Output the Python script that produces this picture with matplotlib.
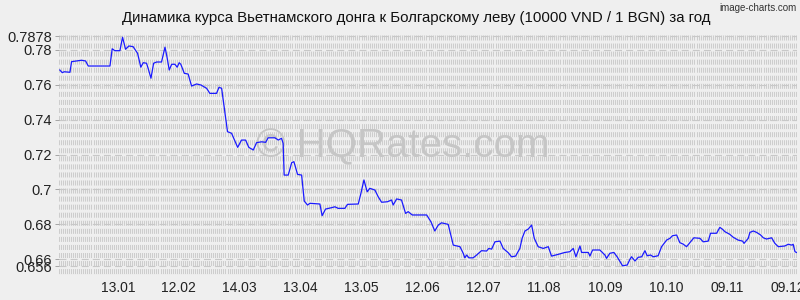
import numpy as np
import matplotlib
matplotlib.use('Agg')
import matplotlib.pyplot as plt

# day index (0 = ~15.12) and rate
days = [0.4, 1.6, 2.6, 5.4, 6.2, 8.7, 11.1, 13.1, 14.4, 25.1, 26.2, 27.5, 30.0, 31.3, 32.8,
        34.4, 36.5, 38.7, 40.3, 41.5, 43.1, 43.9, 45.3, 46.6, 48.1, 50.5, 52.2, 53.1, 54.3,
        55.5, 57.1, 58.2, 59.2, 60.0, 61.7, 63.6, 65.3, 67.8, 69.9, 72.7, 74.3, 77.6, 78.8,
        80.1, 83.0, 85.0, 88.0, 89.9, 91.9, 93.5, 95.7, 97.3, 99.8, 101.8, 103.0, 106.3,
        108.0, 109.6, 110.4, 110.9, 112.9, 114.6, 115.7, 117.5, 119.5, 120.8, 122.4, 123.6,
        128.5, 129.6, 131.3, 134.3, 135.9, 137.5, 140.8, 142.1, 147.4, 148.7, 150.2, 151.8,
        153.1, 155.6, 157.2, 158.9, 161.8, 163.8, 164.6, 166.3, 168.7, 170.7, 172.0, 174.0,
        181.1, 183.2, 185.1, 186.8, 188.4, 191.7, 193.0, 194.2, 197.5, 199.1, 199.9, 200.8,
        201.9, 204.0, 205.7, 208.1, 210.6, 211.7, 213.1, 214.7, 217.2, 218.8, 221.3, 222.9,
        224.9, 227.0, 228.1, 229.5, 231.1, 232.8, 234.1, 236.0, 238.5, 241.0, 242.6, 245.9,
        249.2, 251.6, 253.3, 254.6, 256.6, 257.4, 260.7, 261.5, 262.8, 266.4, 268.9, 269.7,
        271.3, 273.3, 274.9, 277.6, 279.9, 281.2, 282.0, 283.7, 285.3, 287.0, 288.6, 289.7,
        291.4, 292.7, 295.1, 296.8, 299.3, 300.9, 302.2, 304.2, 305.8, 307.4, 309.1, 310.7,
        312.7, 315.7, 317.3, 319.8, 320.9, 323.9, 325.5, 326.8, 328.0, 330.4, 332.1, 334.5,
        336.7, 337.4, 339.5, 340.3, 342.0, 343.6, 345.6, 346.9, 348.5, 351.0, 352.6, 354.3,
        357.5, 359.2, 360.9, 361.6, 362.5, 363.3]
rates = [0.7685, 0.7670, 0.7675, 0.7672, 0.7733, 0.7737, 0.7741, 0.7737, 0.7708, 0.7708,
         0.7807, 0.7796, 0.7796, 0.7873, 0.7804, 0.7823, 0.7819, 0.7781, 0.7701, 0.7727,
         0.7724, 0.7695, 0.7638, 0.7724, 0.7731, 0.7731, 0.7816, 0.7766, 0.7685, 0.7718,
         0.7718, 0.7701, 0.7727, 0.7718, 0.7666, 0.7662, 0.7593, 0.7605, 0.7599, 0.7580,
         0.7551, 0.7551, 0.7586, 0.7580, 0.7331, 0.7322, 0.7241, 0.7283, 0.7283, 0.7241,
         0.7226, 0.7268, 0.7273, 0.7270, 0.7296, 0.7296, 0.7283, 0.7293, 0.7264, 0.7082,
         0.7082, 0.7153, 0.7159, 0.7086, 0.7082, 0.6933, 0.6910, 0.6920, 0.6916, 0.6849,
         0.6887, 0.6895, 0.6900, 0.6891, 0.6891, 0.6914, 0.6916, 0.6977, 0.7054, 0.6986,
         0.7006, 0.6996, 0.6958, 0.6926, 0.6929, 0.6939, 0.6910, 0.6945, 0.6939, 0.6862,
         0.6872, 0.6853, 0.6853, 0.6814, 0.6761, 0.6795, 0.6808, 0.6799, 0.6738, 0.6680,
         0.6671, 0.6633, 0.6607, 0.6623, 0.6607, 0.6607, 0.6623, 0.6648, 0.6646, 0.6661,
         0.6657, 0.6699, 0.6703, 0.6661, 0.6636, 0.6613, 0.6617, 0.6661, 0.6719, 0.6761,
         0.6772, 0.6795, 0.6719, 0.6671, 0.6661, 0.6671, 0.6617, 0.6627, 0.6638, 0.6642,
         0.6661, 0.6613, 0.6675, 0.6638, 0.6638, 0.6617, 0.6652, 0.6652, 0.6623, 0.6604,
         0.6633, 0.6638, 0.6613, 0.6561, 0.6566, 0.6598, 0.6613, 0.6589, 0.6610, 0.6613,
         0.6648, 0.6619, 0.6623, 0.6613, 0.6619, 0.6671, 0.6709, 0.6719, 0.6734, 0.6738,
         0.6694, 0.6686, 0.6671, 0.6694, 0.6722, 0.6719, 0.6699, 0.6703, 0.6748, 0.6748,
         0.6782, 0.6771, 0.6757, 0.6742, 0.6725, 0.6709, 0.6703, 0.6690, 0.6719, 0.6753,
         0.6761, 0.6753, 0.6738, 0.6722, 0.6715, 0.6722, 0.6690, 0.6671, 0.6675, 0.6685,
         0.6680, 0.6685, 0.6642, 0.6638]

x_labels = ['13.01', '12.02', '14.03', '13.04', '13.05', '12.06', '12.07', '11.08',
            '10.09', '10.10', '09.11', '09.12']
x_ticks = [29 + 30 * i for i in range(len(x_labels))]
y_ticks = [0.7878, 0.78, 0.76, 0.74, 0.72, 0.7, 0.68, 0.66, 0.656]
y_labels = ['0.7878', '0.78', '0.76', '0.74', '0.72', '0.7', '0.68', '0.66', '0.656']

title = 'Динамика курса Вьетнамского донга к Болгарскому леву (10000 VND / 1 BGN) за год'

plt.rcParams['font.family'] = ['Liberation Sans', 'DejaVu Sans']
plt.rcParams['lines.scale_dashes'] = False

bg = '#efefef'
fig = plt.figure(figsize=(8, 3), dpi=100, facecolor=bg)
ax = fig.add_axes([59 / 800, 1 - 277 / 300, 738 / 800, 242 / 300], facecolor=bg)

y_lo, y_hi = 0.6497, 0.7886
x_lo, x_hi = 0, 363.5
ax.set_xlim(x_lo, x_hi)
ax.set_ylim(y_lo, y_hi)

# dense dashed vertical grid, one line per day
ax.vlines(np.arange(0, 364), y_hi, y_lo, colors='#cdcdcd', linewidth=0.75,
          linestyles=[(0, (3.6, 2.2))], zorder=1)
# horizontal dashed lines at the labelled levels
for yv in y_ticks:
    ax.axhline(yv, color='#c8c8c8', linewidth=0.8, dashes=(5, 3), zorder=1.5)

# watermark
ax.text(0.466, 0.541, '© HQRates.com', transform=ax.transAxes, ha='center', va='center',
        fontsize=29, color='#c6c6c6', zorder=2)

ax.plot(days, rates, color='#1a1aff', linewidth=0.9, zorder=3)

ax.set_xticks(x_ticks)
ax.set_xticklabels(x_labels, fontsize=10, color='#222222')
ax.set_yticks(y_ticks)
ax.set_yticklabels(y_labels, fontsize=10.5, color='#222222')
ax.tick_params(axis='x', length=0, pad=3)
ax.tick_params(axis='y', length=3, width=0.6, color='#999999', pad=2)
for s in ax.spines.values():
    s.set_visible(False)

fig.text(416 / 800, 1 - 18 / 300, title, ha='center', va='center', fontsize=10.8,
         color='#111111')
fig.text(797 / 800, 1 - 8 / 300, 'image-charts.com', ha='right', va='center',
         fontsize=7, color='#333333', family=['Liberation Sans Narrow', 'Liberation Sans'])

fig.savefig('out.png', dpi=100, facecolor=bg)
